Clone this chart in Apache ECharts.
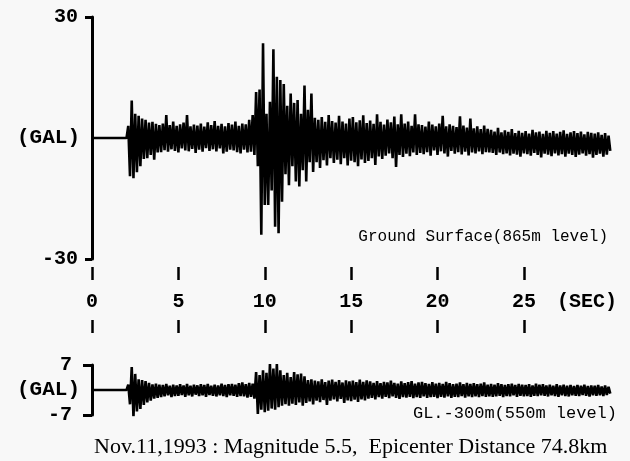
<!DOCTYPE html>
<html>
<head>
<meta charset="utf-8">
<script src="https://cdn.jsdelivr.net/npm/echarts@6/dist/echarts.min.js"></script>
<style>
  html, body { margin: 0; padding: 0; background: #f8f8f8; }
  #chart { width: 630px; height: 461px; }
</style>
</head>
<body>
<div id="chart"></div>
<script>
// time axis (sec)
const secTicks = [0, 5, 10, 15, 20, 25]
const onset = 2.1      // first recorded motion, sec
const dt = 0.1         // spacing of the peak readings, sec

// Ground Surface (865m level), GAL, alternating peak readings from t = 2.1 s
const surface = [
  3, -9.5, 9.3, -10, 6, -8.5, 5.5, -7, 4.8, -5.2,
  4.5, -5, 3.8, -4.2, 4, -5.4, 3.5, -3.6, 3.2, -3.5,
  3.6, -3, 5.7, -3.4, 3.2, -2.8, 4.1, -3.2, 3, -3.6,
  3.4, -2.6, 3.8, -3.1, 5.7, -3.3, 2.9, -2.7, 3.3, -3.7,
  3.1, -2.9, 3.6, -3.4, 2.8, -2.5, 3.9, -3.2, 3.2, -2.8,
  4.2, -3.3, 3, -2.6, 3.5, -3.8, 2.9, -3.4, 3.7, -2.9,
  3.3, -3.1, 4.1, -3.5, 3, -3.8, 3.6, -2.9, 3.4, -3.6,
  4.5, -3.4, 5.7, -4.2, 11.4, -7, 12, -24, 23.5, -16.6,
  6, -16.6, 9, -13, 22, -22, 15.2, -23.6, 14.4, -15.8,
  13.4, -9, 8, -11.7, 11, -7, 8.7, -10.8, 9.4, -12,
  6, -8, 13, -10.8, 7, -6, 11, -8.4, 5, -6,
  4.5, -7.4, 5.2, -5.5, 4, -6.8, 5.7, -5, 4.2, -6.2,
  3.8, -5.4, 5.5, -6.5, 4.1, -5, 3.6, -6.8, 4.8, -5.6,
  5.2, -6, 3.9, -7, 4.4, -5.3, 5.6, -6.2, 3.7, -5.7,
  4.3, -5, 3.5, -6.7, 5.9, -4.6, 4, -5.2, 3.3, -4.4,
  4.6, -3.8, 3.9, -5, 5.3, -7.2, 3.4, -4.2, 5.9, -4.7,
  3.6, -3.9, 4.1, -4.5, 3, -3.6, 5.9, -4.2, 3.4, -3.7,
  3.2, -4, 2.8, -3.5, 4.1, -4.4, 3.3, -3.1, 2.9, -4.2,
  3.6, -3.3, 5.5, -3.8, 2.9, -4.6, 3.4, -3.2, 3, -3.9,
  2.7, -3.5, 5.4, -4.1, 3.1, -3.4, 2.6, -4.3, 4.8, -3.6,
  2.4, -3.8, 2.9, -3.3, 2.2, -4, 3.1, -3.5, 2.3, -3.6,
  2, -3.7, 1.6, -4.2, 2.5, -3.6, 1.4, -4, 1.9, -3.8,
  1.5, -4.3, 2.2, -3.9, 1.2, -4.1, 1.8, -4.6, 1.3, -3.8,
  1.7, -4, 1.1, -4.4, 2, -3.7, 1.4, -4.2, 1.6, -4.8,
  1, -3.9, 1.8, -4.1, 1.3, -4.5, 1.7, -3.8, 1.1, -4.3,
  1.5, -4, 1.9, -4.6, 1, -3.9, 1.4, -4.2, 1.7, -4.7,
  1.2, -4.1, 1.6, -3.8, 0.9, -4.4, 1.5, -4, 1.3, -4.9,
  1.1, -4.2, 1.4, -3.9, 0.8, -4.6, 1.2, -4.1, 0.6, -3.2
]

// GL.-300m (550m level), GAL, alternating peak readings from t = 2.1 s
const borehole = [
  1.5, -4, 6.4, -7.5, 4.5, -6, 3, -5.3, 2.8, -4.2,
  2.5, -3.5, 2, -3, 1.6, -2.4, 1.8, -2.2, 1.5, -2,
  1.4, -1.8, 1.7, -1.5, 1.2, -2, 1.5, -1.7, 1.3, -1.6,
  1.6, -1.4, 1.3, -1.9, 1.7, -1.5, 1.2, -1.8, 1.5, -1.3,
  1.3, -1.7, 1.6, -1.5, 1.4, -1.9, 1.7, -1.4, 1.2, -1.6,
  1.5, -1.8, 1.3, -1.5, 1.8, -1.7, 1.4, -2, 1.6, -1.5,
  1.7, -1.6, 1.5, -1.9, 1.9, -1.7, 2.1, -1.8, 1.6, -2.1,
  2, -1.9, 1.8, -2.4, 5, -6.7, 4.2, -5.5, 5.5, -6.2,
  4.8, -5.8, 7.3, -5.2, 6, -5.5, 7.3, -4.8, 5.5, -4.4,
  4.2, -4, 4.8, -4.4, 3.6, -3.8, 5, -4.2, 4.4, -3.5,
  4.6, -4.4, 3.8, -3.6, 2.8, -3.2, 3, -4, 2.6, -3,
  2.4, -3.4, 3, -2.8, 2.2, -4.2, 2.6, -3, 2.9, -2.6,
  2.3, -3.2, 2.8, -2.5, 2.1, -3.6, 2.7, -2.9, 2.4, -3.1,
  2.6, -2.7, 2.2, -3.3, 2.9, -2.6, 2.3, -2.9, 2.7, -2.4,
  2.4, -2.2, 2, -2.6, 2.5, -2, 1.9, -2.4, 2.3, -1.9,
  2.1, -2.3, 2.6, -1.8, 2, -2.2, 1.8, -2.5, 2.4, -2,
  1.9, -2.1, 2.2, -1.9, 2.5, -2.3, 1.8, -2, 2.1, -2.2,
  2.3, -1.8, 1.9, -2.2, 1.7, -2, 2.2, -1.9, 1.8, -2.3,
  2, -1.9, 1.7, -2.1, 2.3, -1.8, 1.9, -2.2, 1.6, -1.9,
  1.8, -2, 2.1, -1.7, 1.6, -2.1, 2, -1.8, 1.7, -2,
  1.9, -1.8, 1.6, -2, 1.8, -1.7, 2.1, -1.9, 1.5, -1.8,
  1.7, -1.9, 1.5, -1.8, 1.9, -1.6, 1.6, -2, 1.4, -1.7,
  1.6, -1.8, 1.8, -1.5, 1.4, -1.9, 1.7, -1.6, 1.5, -1.8,
  1.4, -1.7, 1.6, -1.9, 1.3, -1.6, 1.8, -1.7, 1.5, -1.5,
  1.6, -1.6, 1.3, -1.8, 1.5, -1.5, 1.2, -1.7, 1.6, -1.9,
  1.3, -1.5, 1.5, -1.7, 1.2, -1.8, 1.4, -1.5, 1.1, -1.6,
  1.4, -1.7, 1.2, -1.4, 1.5, -1.6, 1.1, -1.8, 1.3, -1.5,
  1.2, -1.6, 1.4, -1.5, 1, -1.7, 1.3, -1.4, 0.9, -1
]

const monoFont = '"Liberation Mono", "DejaVu Sans Mono", monospace'

function toSeries(values) {
  // quiet trace before the arrival, then the readings
  const pts = [[0, 0], [onset - dt, 0]]
  values.forEach((v, i) => pts.push([+(onset + i * dt).toFixed(2), v]))
  return pts
}

function traceAxis(gridIndex, lim, tickLen, labelGap) {
  return {
    type: 'value',
    gridIndex: gridIndex,
    min: -lim,
    max: lim,
    interval: lim * 2,
    name: '(GAL)',
    nameLocation: 'middle',
    nameRotate: 0,
    nameGap: 12,
    nameMoveOverlap: false,
    nameTextStyle: { color: '#000', fontFamily: monoFont, fontWeight: 'bold', fontSize: 21 },
    splitLine: { show: false },
    axisLine: { show: true, lineStyle: { color: '#000', width: 3 } },
    axisTick: { show: true, length: tickLen, lineStyle: { color: '#000', width: 3 } },
    axisLabel: { color: '#000', fontFamily: monoFont, fontWeight: 'bold', fontSize: 20, margin: labelGap }
  }
}

function hiddenX(gridIndex) {
  return {
    type: 'value', gridIndex: gridIndex, min: 0, max: 30.1,
    show: false, splitLine: { show: false }
  }
}

// second-scale ticks, drawn as short bars above and below the labels
function secAxis(gridIndex, withLabels) {
  return {
    type: 'value', gridIndex: gridIndex, position: 'bottom',
    min: secTicks[0], max: secTicks[secTicks.length - 1], interval: 5,
    splitLine: { show: false },
    axisLine: { show: false },
    axisTick: { show: true, inside: true, length: 13, lineStyle: { color: '#000', width: 2.5 } },
    axisLabel: {
      show: withLabels, margin: 12, color: '#000', fontFamily: monoFont,
      fontWeight: 'bold', fontSize: 20
    }
  }
}

const chart = echarts.init(document.getElementById('chart'))

const option = {
  backgroundColor: '#f8f8f8',
  animation: false,
  title: {
    text: 'Nov.11,1993 : Magnitude 5.5,  Epicenter Distance 74.8km',
    left: 94,
    top: 436,
    padding: 0,
    textStyle: { color: '#000', fontFamily: '"Liberation Serif", serif', fontWeight: 'normal', fontSize: 22 }
  },
  grid: [
    { left: 92, top: 17, width: 520, height: 242, outerBoundsMode: 'none', containLabel: false },
    { left: 92, top: 365, width: 520, height: 50, outerBoundsMode: 'none', containLabel: false },
    { left: 92, top: 267, width: 432, height: 13, outerBoundsMode: 'none', containLabel: false },
    { left: 92, top: 320, width: 432, height: 13, outerBoundsMode: 'none', containLabel: false }
  ],
  xAxis: [
    hiddenX(0),
    hiddenX(1),
    secAxis(2, true),
    secAxis(3, false)
  ],
  yAxis: [
    traceAxis(0, 30, 7, 14),
    traceAxis(1, 7, 9, 20),
    { type: 'value', gridIndex: 2, show: false },
    { type: 'value', gridIndex: 3, show: false }
  ],
  graphic: [
    {
      type: 'text', left: 557, top: 292,
      style: { text: '(SEC)', fill: '#000', font: 'bold 20px ' + monoFont }
    },
    {
      type: 'text', right: 22, top: 229,
      style: { text: 'Ground Surface(865m level)', fill: '#000', font: '16px ' + monoFont }
    },
    {
      type: 'text', right: 13, top: 405,
      style: { text: 'GL.-300m(550m level)', fill: '#000', font: '17px ' + monoFont }
    }
  ],
  series: [
    {
      name: 'Ground Surface', type: 'line', xAxisIndex: 0, yAxisIndex: 0,
      showSymbol: false, symbol: 'none',
      lineStyle: { color: '#000', width: 2.6 },
      data: toSeries(surface)
    },
    {
      name: 'GL.-300m', type: 'line', xAxisIndex: 1, yAxisIndex: 1,
      showSymbol: false, symbol: 'none',
      lineStyle: { color: '#000', width: 2.6 },
      data: toSeries(borehole)
    }
  ]
}

chart.setOption(option)
</script>
</body>
</html>
